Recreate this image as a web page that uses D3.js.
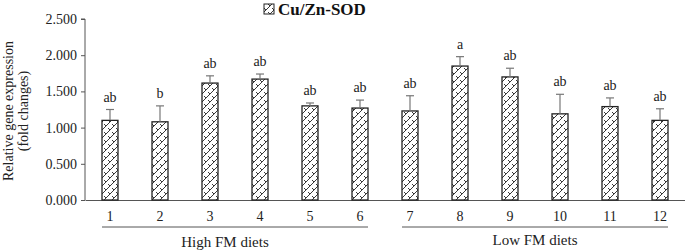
<!DOCTYPE html>
<html>
<head>
<meta charset="utf-8">
<script src="https://cdn.jsdelivr.net/npm/d3@7"></script>
<style>
  body { margin: 0; background: #fff; }
  svg { display: block; }
  svg text { font-family: 'Liberation Serif', 'Times New Roman', serif !important; }
</style>
</head>
<body>
<div class="canvas"></div>
<script>
const width = 685
const height = 251

// data
const diets = ['1', '2', '3', '4', '5', '6', '7', '8', '9', '10', '11', '12']
const means = [1.10, 1.08, 1.615, 1.67, 1.30, 1.27, 1.23, 1.85, 1.70, 1.19, 1.29, 1.10]
const errors = [0.15, 0.22, 0.10, 0.07, 0.04, 0.11, 0.21, 0.13, 0.12, 0.27, 0.12, 0.16]
const letters = ['ab', 'b', 'ab', 'ab', 'ab', 'ab', 'ab', 'a', 'ab', 'ab', 'ab', 'ab']
const yTicks = [0, 0.5, 1, 1.5, 2, 2.5]
const groups = [
  {name: 'High FM diets', from: '1', to: '6'},
  {name: 'Low FM diets', from: '7', to: '12'}
]

const svg = d3.select('.canvas')
  .append('svg')
  .attr('width', width)
  .attr('height', height)

const defs = svg.append('defs')

// zigzag hatch like the excel fill
const pat = defs.append('pattern')
  .attr('id', 'hatch')
  .attr('patternUnits', 'userSpaceOnUse')
  .attr('width', 8)
  .attr('height', 8)
pat.append('rect').attr('width', 8).attr('height', 8).attr('fill', '#fff')
pat.append('path')
  .attr('d', 'M0,8 L8,0 M-4,4 L4,-4 M4,12 L12,4 M0,4 L2,6 M4,0 L6,2 M4,8 L6,10 M8,4 L10,6')
  .attr('stroke', '#222')
  .attr('stroke-width', 0.9)
  .attr('fill', 'none')

const x = d3.scaleBand()
  .domain(diets)
  .range([85, 685])

const y = d3.scaleLinear()
  .domain([0, 2.5])
  .range([200, 19])

const barW = 16

// y axis
const yAxis = svg.append('g')
  .attr('transform', 'translate(85,0)')
  .call(d3.axisLeft(y).tickValues(yTicks).tickFormat(d3.format('.3f')).tickSize(4).tickPadding(4))
yAxis.select('.domain').attr('stroke', '#555').attr('d', `M-4,${y(2.5)}H0V${y(0)}`)
yAxis.selectAll('.tick line').attr('stroke', '#555')
yAxis.selectAll('text')
  .attr('font-size', 14)
  .attr('fill', '#222')

// x axis line
const xAxis = svg.append('g')
  .attr('transform', `translate(0,${y(0)})`)
  .call(d3.axisBottom(x).tickSize(0).tickPadding(11))
xAxis.select('.domain').attr('stroke', '#555').attr('stroke-width', 1.2)
xAxis.selectAll('text')
  .attr('font-size', 14)
  .attr('fill', '#222')

// bars
const cx = d => x(d) + x.bandwidth() / 2

svg.append('g')
  .selectAll('rect')
  .data(diets)
  .enter()
  .append('rect')
  .attr('x', d => cx(d) - barW / 2)
  .attr('y', (d, i) => y(means[i]))
  .attr('width', barW)
  .attr('height', (d, i) => y(0) - y(means[i]))
  .attr('fill', 'url(#hatch)')
  .attr('stroke', '#222')
  .attr('stroke-width', 1.3)

// error bars (upper only)
const err = svg.append('g').attr('stroke', '#777').attr('stroke-width', 1.2)
err.selectAll('.stem')
  .data(diets)
  .enter()
  .append('line')
  .attr('x1', d => cx(d))
  .attr('x2', d => cx(d))
  .attr('y1', (d, i) => y(means[i]))
  .attr('y2', (d, i) => y(means[i] + errors[i]))
err.selectAll('.cap')
  .data(diets)
  .enter()
  .append('line')
  .attr('x1', d => cx(d) - 4)
  .attr('x2', d => cx(d) + 4)
  .attr('y1', (d, i) => y(means[i] + errors[i]))
  .attr('y2', (d, i) => y(means[i] + errors[i]))

// significance letters
svg.append('g')
  .selectAll('text')
  .data(diets)
  .enter()
  .append('text')
  .attr('x', d => cx(d))
  .attr('y', (d, i) => y(means[i] + errors[i]) - 8)
  .attr('text-anchor', 'middle')
  .attr('font-size', 14)
  .attr('fill', '#222')
  .text((d, i) => letters[i])

// group brackets
groups.forEach(g => {
  const x1 = x(g.from) + 17
  const x2 = x(g.to) + x.bandwidth() - 17
  svg.append('line')
    .attr('x1', x1).attr('x2', x2)
    .attr('y1', 227).attr('y2', 227)
    .attr('stroke', '#555')
    .attr('stroke-width', 1)
  svg.append('text')
    .attr('x', (x(g.from) + x(g.to) + x.bandwidth()) / 2 + (g.name[0] === 'H' ? -10 : 0))
    .attr('y', g.name[0] === 'H' ? 247 : 245)
    .attr('text-anchor', 'middle')
    .attr('font-size', 15)
    .attr('fill', '#222')
    .text(g.name)
})

// y axis title
const yTitle = svg.append('text')
  .attr('transform', 'translate(13,111) rotate(-90)')
  .attr('text-anchor', 'middle')
  .attr('font-size', 14)
  .attr('fill', '#222')
yTitle.append('tspan').attr('x', 0).attr('y', 0).text('Relative gene expression')
yTitle.append('tspan').attr('x', 0).attr('y', 15).text('(fold changes)')

// legend
const legend = svg.append('g').attr('transform', 'translate(264,4)')
legend.append('rect')
  .attr('width', 10).attr('height', 10)
  .attr('fill', 'url(#hatch)')
  .attr('stroke', '#222')
  .attr('stroke-width', 1)
legend.append('text')
  .attr('x', 14)
  .attr('y', 11)
  .attr('font-size', 17)
  .attr('font-weight', 'bold')
  .attr('fill', '#111')
  .text('Cu/Zn-SOD')
</script>
</body>
</html>
